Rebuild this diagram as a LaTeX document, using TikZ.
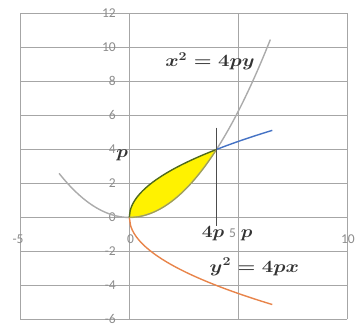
\documentclass[tikz,border=0pt]{standalone}
\usepackage{fontspec}
\setmainfont{Carlito}
\usepackage{graphicx}
\definecolor{gridc}{HTML}{A6A6A6}
\definecolor{tickc}{HTML}{8C8C8C}
\definecolor{grayc}{HTML}{ABABAB}
\definecolor{bluec}{HTML}{4472C4}
\definecolor{orangec}{HTML}{E8844A}
\definecolor{upedge}{HTML}{4F6A1C}
\definecolor{lowedge}{HTML}{A3A24A}
\tikzset{
  gridline/.style={draw=gridc, line width=1.1pt},
  ticklbl/.style={text=tickc, font=\fontsize{13.5}{14}\selectfont, inner sep=0pt},
  mathlbl/.style={font=\fontsize{17}{19}\selectfont\boldmath, inner sep=0pt, text=black!80},
  curve/.style={line width=1.4pt},
}
\begin{document}
\begin{tikzpicture}[x=21.8pt, y=17pt]
\useasboundingbox (-5.93,-6.56) rectangle (10.49,12.79);
% grid
\foreach \yy in {-6,-4,-2,0,2,4,6,8,10,12} \draw[gridline] (-5,\yy) -- (10,\yy);
\foreach \xx in {-5,0,5,10} \draw[gridline] (\xx,-6) -- (\xx,12);
% y tick labels
\foreach \yy in {12,10,8,6,4,2,0,-4,-6} \node[ticklbl, anchor=east] at (-0.61,\yy) {\yy};
\node[ticklbl, anchor=east] at (-0.61,-2) {-2};
% x tick labels
\node[ticklbl] (tm5) at (-5.1,-1.26) {-5};
\node[ticklbl] (t0) at (0.06,-1.26) {0};
\node[ticklbl] (t10) at (10.03,-1.26) {10};
\node[ticklbl] (t5) at (4.74,-0.94) {5};
% yellow region
\fill[yellow] plot[domain=0:4, samples=60] ({\x},{2*sqrt(\x)}) -- plot[domain=4:0, samples=40] ({\x},{\x*\x/4}) -- cycle;
% curves
\draw[curve, grayc] plot[domain=-3.22:6.47, samples=80] ({\x},{\x*\x/4});
\draw[curve, bluec] plot[domain=4:6.56, samples=40] ({\x},{2*sqrt(\x)});
\draw[curve, orangec] plot[domain=0:6.56, samples=100] ({\x},{-2*sqrt(\x)});
\draw[curve, upedge] plot[domain=0:4, samples=100] ({\x},{2*sqrt(\x)});
\draw[line width=1.1pt, lowedge] plot[domain=0:4, samples=40] ({\x},{\x*\x/4});
% vertical marker at x = 4
\coordinate (vtop) at (4,5.28);
\coordinate (vbot) at (4,-0.48);
\draw[line width=0.9pt, black!70] (vtop) -- (vbot);
% labels
\node[mathlbl, anchor=base] (eqa) at (3.7,8.85) {\scalebox{1.18}[1]{$x^2=4py$}};
\node[mathlbl, anchor=base] (eqb) at (5.74,-3.22) {\scalebox{1.18}[1]{$y^2=4px$}};
\node[mathlbl, anchor=base] (fourp) at (3.84,-1.15) {\scalebox{1.12}[1]{$4p$}};
\node[mathlbl, anchor=base] (pfive) at (5.38,-1.15) {\scalebox{1.12}[1]{$p$}};
\node[mathlbl, anchor=base] (pfour) at (-0.33,3.55) {\scalebox{1.12}[1]{$p$}};
\end{tikzpicture}
\end{document}
